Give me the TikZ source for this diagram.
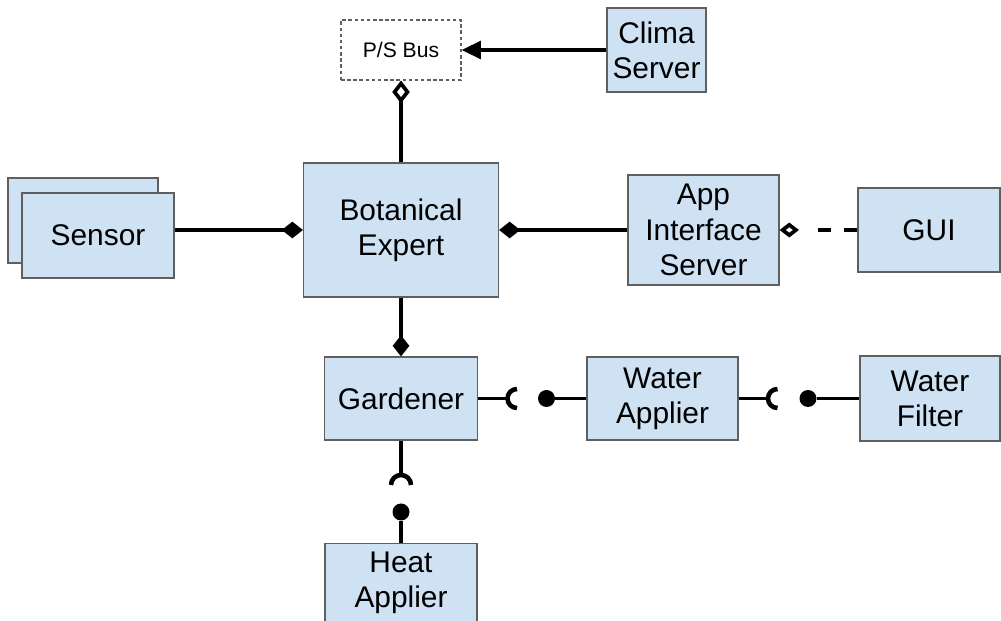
\documentclass[tikz,border=0pt]{standalone}
\usepackage{fontspec}
\setmainfont{Liberation Sans}
\usetikzlibrary{positioning, arrows.meta}
\definecolor{boxblue}{HTML}{CFE2F3}
\definecolor{boxline}{HTML}{5F5F5F}

\begin{document}
\begin{tikzpicture}[
    block/.style={rectangle, draw=boxline, line width=0.7pt, fill=boxblue, align=center, inner sep=0pt, font=\fontsize{17}{20}\selectfont},
    link/.style={line width=2.1pt},
    ball/.style={circle, fill=black, inner sep=0pt, minimum size=0.34cm},
    socket/.style={line width=2.6pt}
  ]
  \useasboundingbox (0,0) rectangle (20.02,-12.42);

  % Draw the vertices.
  \node at (8.02,-1) [rectangle, draw=boxline, dash pattern=on 2pt off 1.5pt, line width=0.6pt, minimum width=2.4cm, minimum height=1.2cm, font=\fontsize{12}{14}\selectfont] (bus) {P/S Bus};
  \node at (13.13,-1) [block, minimum width=1.98cm, minimum height=1.68cm] (clima) {Clima\\Server};
  \node at (8.02,-4.6) [block, minimum width=3.9cm, minimum height=2.68cm] (bot) {Botanical\\Expert};
  \node at (1.66,-4.41) [block, minimum width=3cm, minimum height=1.7cm] (sensorbk) {};
  \node at (1.96,-4.71) [block, minimum width=3.04cm, minimum height=1.7cm] (sensor) {Sensor};
  \node at (14.07,-4.6) [block, minimum width=3.02cm, minimum height=2.2cm] (app) {App\\Interface\\Server};
  \node at (18.58,-4.6) [block, minimum width=2.84cm, minimum height=1.68cm] (gui) {GUI};
  \node at (8.02,-7.97) [block, minimum width=3.06cm, minimum height=1.66cm] (gard) {Gardener};
  \node at (13.25,-7.97) [block, minimum width=3.02cm, minimum height=1.66cm] (wapp) {Water\\Applier};
  \node at (18.6,-7.97) [block, minimum width=2.8cm, minimum height=1.7cm] (wfilt) {Water\\Filter};
  \node[block, below=2.04cm of gard, minimum width=3.04cm, minimum height=1.58cm] (heat) {Heat\\Applier};

  % Balls and sockets
  \coordinate (sk1) at (10.15,-7.97);
  \coordinate (sk2) at (15.36,-7.97);
  \coordinate (sk3) at (8.02,-9.5);
  \node[ball] at (10.93,-7.97) (b1) {};
  \node[ball] at (16.16,-7.97) (b2) {};
  \node[ball] at (8.02,-10.24) (b3) {};
  \draw[socket] (sk1) ++(0.19,0.19) arc[start angle=90, end angle=270, radius=0.19];
  \draw[socket] (sk2) ++(0.19,0.19) arc[start angle=90, end angle=270, radius=0.19];
  \draw[socket] (sk3) ++(-0.2,-0.2) arc[start angle=180, end angle=0, radius=0.2];

  % Connect vertices with edges
  \path (clima) edge[link, -{Triangle[length=11pt, width=10pt]}] (bus);
  \path (bot) edge[link, -{Diamond[open, length=13pt, width=10pt]}] (bus);
  \path (sensor.east |- bot.west) edge[link, -{Diamond[length=12pt, width=9.5pt]}] (bot.west);
  \path (app) edge[link, -{Diamond[length=12pt, width=9.5pt]}] (bot);
  \path (gui) edge[link, dash pattern=on 7.5pt off 7.5pt on 7.5pt off 17pt, -{Diamond[open, length=11pt, width=8.5pt]}] (app);
  \path (bot) edge[link, -{Diamond[length=12pt, width=9.5pt]}] (gard);
  \path (gard.east) edge[link] (sk1);
  \path (b1) edge[link] (wapp);
  \path (wapp.east) edge[link] (sk2);
  \path (b2) edge[link] (wfilt);
  \path (gard.south) edge[link] (sk3);
  \path (b3) edge[link] (heat);
\end{tikzpicture}
\end{document}
